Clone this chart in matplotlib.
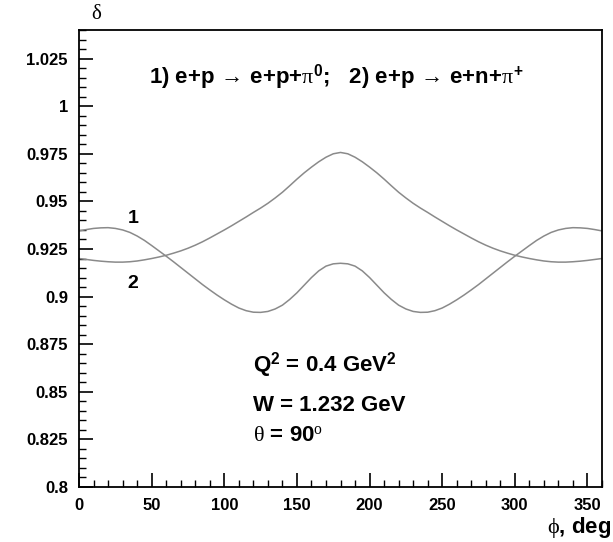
import matplotlib
matplotlib.use("Agg")
import matplotlib.pyplot as plt
from matplotlib.ticker import MultipleLocator

plt.rcParams['font.family'] = ['Liberation Sans', 'DejaVu Sans']
plt.rcParams['mathtext.fontset'] = 'custom'
plt.rcParams['mathtext.rm'] = 'Liberation Sans:bold'
plt.rcParams['mathtext.it'] = 'Liberation Serif'
plt.rcParams['mathtext.bf'] = 'Liberation Sans:bold'

# phi grid, degrees
phi = list(range(0, 361, 5))

# 1) e+p -> e+p+pi0
delta_pi0 = [
    0.9345, 0.9352, 0.9358, 0.9361, 0.9362, 0.9358, 0.9350, 0.9337, 0.9318, 0.9295,
    0.9268, 0.9240, 0.9212, 0.9183, 0.9153, 0.9123, 0.9093, 0.9063, 0.9035, 0.9008,
    0.8983, 0.8960, 0.8940, 0.8926, 0.8918, 0.8917, 0.8922, 0.8935, 0.8955, 0.8985,
    0.9020, 0.9060, 0.9100, 0.9135, 0.9160, 0.9172, 0.9175,
    0.9172, 0.9160, 0.9135, 0.9100, 0.9060, 0.9020, 0.8985, 0.8955, 0.8935, 0.8922,
    0.8917, 0.8918, 0.8926, 0.8940, 0.8960, 0.8983, 0.9008, 0.9035, 0.9063, 0.9093,
    0.9123, 0.9153, 0.9183, 0.9212, 0.9240, 0.9268, 0.9295, 0.9318, 0.9337, 0.9350,
    0.9358, 0.9362, 0.9361, 0.9358, 0.9352, 0.9345,
]

# 2) e+p -> e+n+pi+
delta_pip = [
    0.9200, 0.9195, 0.9190, 0.9186, 0.9183, 0.9181, 0.9181, 0.9183, 0.9187, 0.9193,
    0.9200, 0.9208, 0.9217, 0.9228, 0.9240, 0.9254, 0.9270, 0.9288, 0.9308, 0.9329,
    0.9350, 0.9372, 0.9395, 0.9418, 0.9442, 0.9465, 0.9490, 0.9518, 0.9548, 0.9582,
    0.9617, 0.9650, 0.9680, 0.9708, 0.9732, 0.9750, 0.9757,
    0.9750, 0.9732, 0.9708, 0.9680, 0.9650, 0.9617, 0.9582, 0.9548, 0.9518, 0.9490,
    0.9465, 0.9442, 0.9418, 0.9395, 0.9372, 0.9350, 0.9329, 0.9308, 0.9288, 0.9270,
    0.9254, 0.9240, 0.9228, 0.9217, 0.9208, 0.9200, 0.9193, 0.9187, 0.9183, 0.9181,
    0.9181, 0.9183, 0.9186, 0.9190, 0.9195, 0.9200,
]

yticks = [0.8, 0.825, 0.85, 0.875, 0.9, 0.925, 0.95, 0.975, 1.0, 1.025]
ylabels = ['0.8', '0.825', '0.85', '0.875', '0.9', '0.925', '0.95', '0.975', '1', '1.025']

fig = plt.figure(figsize=(6.13, 5.42), dpi=100)
ax = fig.add_axes([0.129, 0.1015, 0.853, 0.8431])

ax.plot(phi, delta_pi0, color='#8a8a8a', lw=1.1)
ax.plot(phi, delta_pip, color='#8a8a8a', lw=1.1)

ax.set_xlim(0, 360)
ax.set_ylim(0.8, 1.04)
ax.xaxis.set_major_locator(MultipleLocator(50))
ax.xaxis.set_minor_locator(MultipleLocator(10))
ax.yaxis.set_minor_locator(MultipleLocator(0.005))
ax.set_yticks(yticks)
ax.set_yticklabels(ylabels)
ax.tick_params(which='both', direction='in', top=False, right=False,
               labelsize=12, colors='black')
ax.tick_params(which='major', length=10, width=1.2, pad=8)
ax.tick_params(which='minor', length=5, width=1.0)
for lab in ax.get_xticklabels() + ax.get_yticklabels():
    lab.set_fontweight('bold')
for s in ax.spines.values():
    s.set_linewidth(1.3)

fig.text(0.157, 0.975, r'$\it{\delta}$', fontsize=15, ha='center', va='center')
fig.text(0.997, 0.027, r'$\it{\phi}$, deg', fontsize=16, fontweight='bold',
         ha='right', va='center')

arrow = r'$\!\it{\rightarrow}\!$'
title = ('1) e+p ' + arrow + ' e+p+$\\it{\\pi}^{0}$;   2) e+p ' + arrow
         + ' e+n+$\\it{\\pi}^{+}$')
ax.text(177, 1.0153, title, fontsize=16, fontweight='bold', ha='center', va='center')
ax.text(37, 0.941, '1', fontsize=14, fontweight='bold', ha='center', va='center')
ax.text(37, 0.907, '2', fontsize=14, fontweight='bold', ha='center', va='center')

ax.text(120, 0.864, r'Q$^{2}$ = 0.4 GeV$^{2}$', fontsize=16, fontweight='bold', va='center')
ax.text(120, 0.843, 'W = 1.232 GeV', fontsize=16, fontweight='bold', va='center')
ax.text(120, 0.8268, r'$\it{\theta}$ = 90$^{o}$', fontsize=16, fontweight='bold', va='center')

fig.savefig('out.png', dpi=100)
